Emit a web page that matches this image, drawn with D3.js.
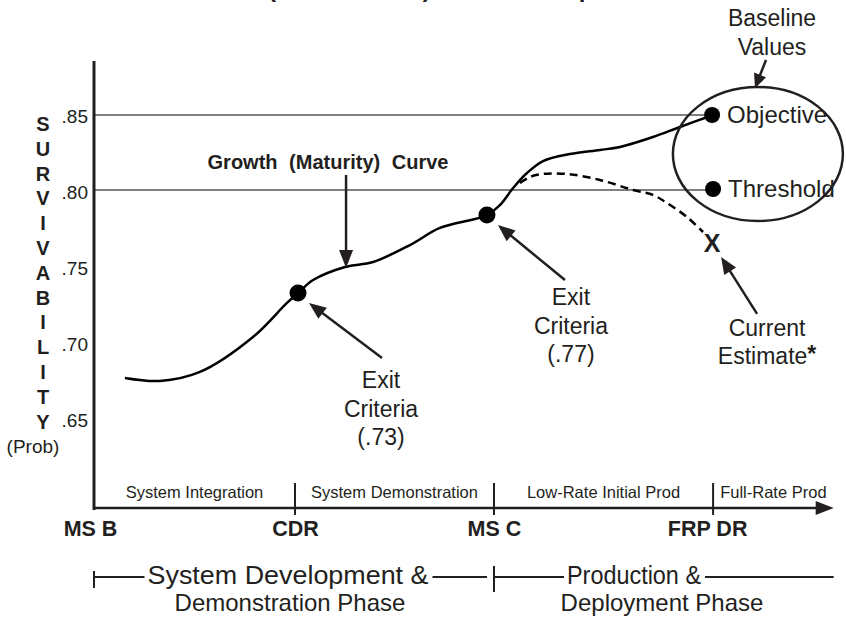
<!DOCTYPE html>
<html>
<head>
<meta charset="utf-8">
<script src="https://cdn.jsdelivr.net/npm/d3@7"></script>
<style>
  body { margin: 0; background: #fff; }
  svg { display: block; font-family: Arial, "Liberation Sans", Helvetica, sans-serif; }
</style>
</head>
<body>
<svg id="chart" width="846" height="618"></svg>
<script>
// ---- data ----
var yTicks = [0.85, 0.80, 0.75, 0.70, 0.65];
var goalNames = ["Objective", "Threshold"];
var goalValues = [0.85, 0.80];
var goalT = 3.08;

var milestones = ["MS B", "CDR", "MS C", "FRP DR"];
var milestoneT = [0, 1, 1.99, 3.08];
var stages = ["System Integration", "System Demonstration", "Low-Rate Initial Prod", "Full-Rate Prod"];
var phaseTop = ["System Development &", "Production &"];
var phaseBottom = ["Demonstration Phase", "Deployment Phase"];
var axisEndT = 3.68;

// growth (maturity) curve, t = program time (milestone units), v = survivability
var growthT = [0.154, 0.328, 0.527, 0.791, 0.960, 1.015, 1.09, 1.249, 1.388, 1.572, 1.721, 1.955,
               2.02, 2.085, 2.154, 2.234, 2.368, 2.517, 2.617, 2.781, 2.915, 3.08];
var growthV = [0.6747, 0.6727, 0.6787, 0.702, 0.7247, 0.7313, 0.740, 0.7487, 0.752, 0.7633, 0.7747, 0.7833,
               0.790, 0.8013, 0.8113, 0.8193, 0.824, 0.8267, 0.8287, 0.8353, 0.842, 0.85];

// current estimate (dashed)
var estimateT = [2.119, 2.169, 2.234, 2.353, 2.517, 2.682, 2.781, 2.851, 2.95, 3.03];
var estimateV = [0.8047, 0.8087, 0.8107, 0.8107, 0.8067, 0.800, 0.7967, 0.7913, 0.782, 0.772];
var currentT = 3.075, currentV = 0.7647;

// exit criteria
var exitT = [1.015, 1.955];
var exitV = [0.7313, 0.7833];
var exitLabels = ["(.73)", "(.77)"];

var ink = "#231f20";

var svg = d3.select("#chart");

var x = d3.scaleLinear().domain([0, 1]).range([94, 295]);
var y = d3.scaleLinear().domain([0.80, 0.85]).range([190, 115]);

function arrow(g, x1, y1, x2, y2, len, half, sw) {
  var dx = x2 - x1, dy = y2 - y1, L = Math.hypot(dx, dy), ux = dx / L, uy = dy / L;
  var bx = x2 - ux * len, by = y2 - uy * len;
  g.append("line")
    .attr("x1", x1).attr("y1", y1)
    .attr("x2", bx + ux * 2).attr("y2", by + uy * 2)
    .attr("stroke", ink).attr("stroke-width", sw || 2.5);
  g.append("path")
    .attr("d", "M" + x2 + "," + y2 + "L" + (bx - uy * half) + "," + (by + ux * half) +
               "L" + (bx + uy * half) + "," + (by - ux * half) + "Z")
    .attr("fill", ink);
}

function lines(g, cx, y0, arr, size, step, weight) {
  arr.forEach(function (s, i) {
    g.append("text")
      .attr("x", cx).attr("y", y0 + i * step)
      .attr("text-anchor", "middle")
      .style("font-size", size + "px")
      .style("font-weight", weight || "normal")
      .attr("fill", ink)
      .text(s);
  });
}

// clipped title at the very top
svg.append("text")
  .attr("x", 268).attr("y", -3)
  .style("font-size", "24px").style("font-weight", "bold")
  .attr("fill", ink)
  .text("(Performance) Metric Example");

// gridlines for objective / threshold
svg.selectAll(".grid")
  .data(goalValues)
  .enter().append("line")
  .attr("class", "grid")
  .attr("x1", x(0)).attr("x2", x(goalT))
  .attr("y1", d => y(d)).attr("y2", d => y(d))
  .attr("stroke", "#555").attr("stroke-width", 1.5);

// y axis labels
var yAxis = d3.axisLeft(y)
  .tickValues(yTicks)
  .tickSize(0)
  .tickPadding(0)
  .tickFormat(d => d3.format(".2f")(d).replace(/^0/, ""));

var yg = svg.append("g")
  .attr("transform", "translate(88,0)")
  .call(yAxis);
yg.select(".domain").remove();
yg.selectAll("text")
  .attr("fill", ink)
  .attr("dy", (d, i) => (0.40 + i * 0.05) + "em")
  .style("font-size", "19px")
  .style("font-family", "Arial, 'Liberation Sans', sans-serif");

// y axis line
svg.append("line")
  .attr("x1", x(0)).attr("x2", x(0))
  .attr("y1", 61).attr("y2", 510)
  .attr("stroke", ink).attr("stroke-width", 3);

// vertical title letters
"SURVIVABILITY".split("").forEach(function (c, i) {
  svg.append("text")
    .attr("x", 43).attr("y", 131 + i * 24.8)
    .attr("text-anchor", "middle")
    .style("font-size", "20px").style("font-weight", "bold")
    .attr("fill", ink)
    .text(c);
});
svg.append("text")
  .attr("x", 33).attr("y", 453)
  .attr("text-anchor", "middle")
  .style("font-size", "19px")
  .attr("fill", ink)
  .text("(Prob)");

// x axis line with arrow
var xAxisY = 508;
var ag = svg.append("g");
arrow(ag, x(0), xAxisY, x(axisEndT), xAxisY, 18, 7, 2.5);

// milestone ticks
svg.selectAll(".mtick")
  .data(milestoneT.slice(1))
  .enter().append("line")
  .attr("class", "mtick")
  .attr("x1", d => x(d)).attr("x2", d => x(d))
  .attr("y1", 483).attr("y2", 515)
  .attr("stroke", ink).attr("stroke-width", 2);

// milestone labels via axis
var xAxis = d3.axisBottom(x)
  .tickValues(milestoneT)
  .tickSize(0)
  .tickPadding(0)
  .tickFormat((d, i) => milestones[i]);
var xg = svg.append("g")
  .attr("transform", "translate(0," + (xAxisY + 12) + ")")
  .call(xAxis);
xg.select(".domain").remove();
xg.selectAll("text")
  .attr("fill", ink)
  .attr("dy", "0.76em")
  .style("font-size", "21.5px").style("font-weight", "bold")
  .style("font-family", "Arial, 'Liberation Sans', sans-serif");
xg.selectAll(".tick").filter((d, i) => i === 0).select("text").attr("dx", "-4");
xg.selectAll(".tick").filter((d, i) => i === 3).select("text").attr("dx", "-6");

// stage labels between milestones
var stageEdges = milestoneT.concat([axisEndT]);
stages.forEach(function (s, i) {
  svg.append("text")
    .attr("x", (x(stageEdges[i]) + x(stageEdges[i + 1])) / 2)
    .attr("y", 498)
    .attr("text-anchor", "middle")
    .style("font-size", "16.5px")
    .attr("fill", ink)
    .text(s);
});

// phase brackets
var bracketY = 577;
var phaseEdges = [x(0), x(milestoneT[2]), x(axisEndT)];
var phaseCenters = [288, 634];
var phaseWidths = [281, 134];
var phaseCenters2 = [290, 662];
var pg = svg.append("g");
phaseTop.forEach(function (s, i) {
  pg.append("text")
    .attr("x", phaseCenters[i]).attr("y", bracketY + 7)
    .attr("text-anchor", "middle")
    .attr("textLength", phaseWidths[i])
    .attr("lengthAdjust", "spacingAndGlyphs")
    .style("font-size", "25px")
    .attr("fill", ink)
    .text(s);
  var l = phaseCenters[i] - phaseWidths[i] / 2, r = phaseCenters[i] + phaseWidths[i] / 2;
  pg.append("line").attr("x1", phaseEdges[i]).attr("x2", l - 3)
    .attr("y1", bracketY).attr("y2", bracketY)
    .attr("stroke", ink).attr("stroke-width", 2);
  pg.append("line").attr("x1", r + 4).attr("x2", phaseEdges[i + 1] - (i === 0 ? 7 : 0))
    .attr("y1", bracketY).attr("y2", bracketY)
    .attr("stroke", ink).attr("stroke-width", 2);
  pg.append("text")
    .attr("x", phaseCenters2[i]).attr("y", bracketY + 34)
    .attr("text-anchor", "middle")
    .style("font-size", "24px")
    .attr("fill", ink)
    .text(phaseBottom[i]);
});
pg.append("line").attr("x1", phaseEdges[0]).attr("x2", phaseEdges[0])
  .attr("y1", bracketY - 6).attr("y2", bracketY + 11)
  .attr("stroke", ink).attr("stroke-width", 2);
pg.append("line").attr("x1", phaseEdges[1]).attr("x2", phaseEdges[1])
  .attr("y1", bracketY - 11).attr("y2", bracketY + 15)
  .attr("stroke", ink).attr("stroke-width", 2);

// curves
var line = d3.line().curve(d3.curveCatmullRom.alpha(0.5));
svg.append("path")
  .attr("d", line(growthT.map((t, i) => [x(t), y(growthV[i])])))
  .attr("fill", "none").attr("stroke", "#000").attr("stroke-width", 2.5);
svg.append("path")
  .attr("d", line(estimateT.map((t, i) => [x(t), y(estimateV[i])])))
  .attr("fill", "none").attr("stroke", "#000").attr("stroke-width", 2.5)
  .attr("stroke-dasharray", "8,5");

// baseline ellipse
svg.append("ellipse")
  .attr("cx", x(3.303)).attr("cy", y(0.824))
  .attr("rx", 85).attr("ry", 67)
  .attr("fill", "none").attr("stroke", ink).attr("stroke-width", 2.5);

// objective / threshold dots + labels
goalValues.forEach(function (v, i) {
  svg.append("circle")
    .attr("cx", x(goalT) - 1 + i).attr("cy", y(v) - i)
    .attr("r", 8).attr("fill", "#000");
  svg.append("text")
    .attr("x", x(goalT) + 14 + i).attr("y", y(v) - i + 8)
    .style("font-size", "24px")
    .attr("fill", ink)
    .text(goalNames[i]);
});

// exit criteria dots
exitT.forEach(function (t, i) {
  var cx = x(t), cy = y(exitV[i]);
  svg.append("circle").attr("cx", cx).attr("cy", cy).attr("r", 8.5).attr("fill", "#000");
  var g = svg.append("g");
  arrow(g, cx + [84, 78][i], cy + 65, cx + 11, cy + 10, 17, 7);
  lines(g, cx + [83, 84][i], cy + [95, 90][i], ["Exit", "Criteria", exitLabels[i]], 23, 28.5);
});

// current estimate X
var cxX = x(currentT), cyX = y(currentV);
svg.append("text")
  .attr("x", cxX).attr("y", cyX + 9)
  .attr("text-anchor", "middle")
  .style("font-size", "25px").style("font-weight", "bold")
  .attr("fill", ink)
  .text("X");
var cg = svg.append("g");
arrow(cg, cxX + 45, cyX + 71, cxX + 9, cyX + 14, 17, 7);
cg.append("text")
  .attr("x", cxX + 55).attr("y", cyX + 93)
  .attr("text-anchor", "middle")
  .style("font-size", "23px")
  .attr("fill", ink)
  .text("Current");
cg.append("text")
  .attr("x", cxX + 55).attr("y", cyX + 121)
  .attr("text-anchor", "middle")
  .style("font-size", "23px")
  .attr("fill", ink)
  .text("Estimate")
  .append("tspan")
  .style("font-weight", "bold")
  .attr("dy", "-2")
  .text("*");

// growth curve label
var gt = 1.254;
svg.append("text")
  .attr("x", 328).attr("y", 169)
  .attr("text-anchor", "middle")
  .style("font-size", "20px").style("font-weight", "bold")
  .style("word-spacing", "6px")
  .attr("fill", ink)
  .text("Growth (Maturity) Curve");
arrow(svg.append("g"), x(gt), 175, x(gt), y(0.7487) + 1, 18, 7);

// baseline values label
lines(svg.append("g"), 772, 26, ["Baseline", "Values"], 23, 29);
arrow(svg.append("g"), 766, 60, 755, 88, 14, 6.5);
</script>
</body>
</html>
